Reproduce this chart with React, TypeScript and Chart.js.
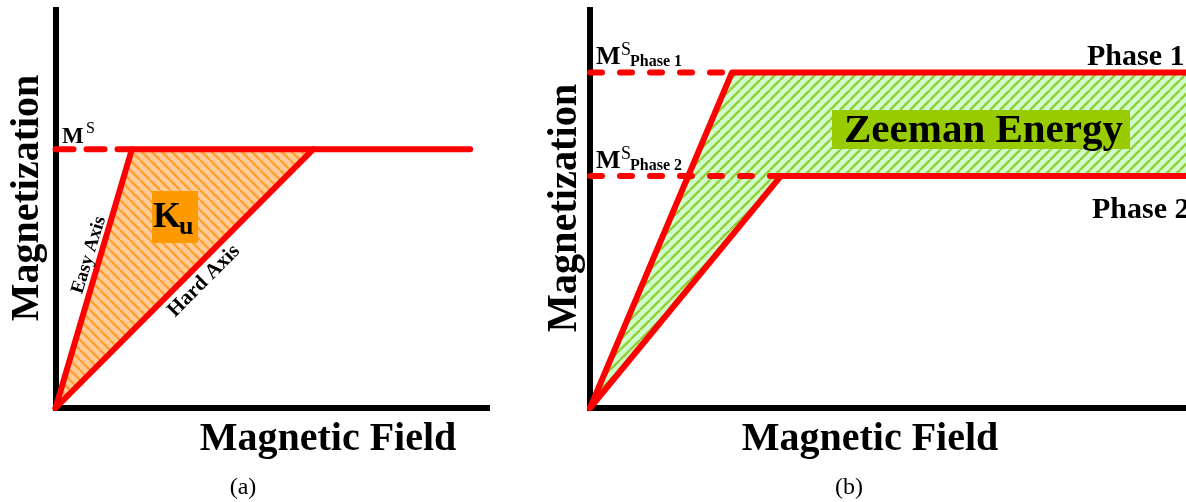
import React, { useEffect, useRef } from "react";
import { Chart, registerables } from "chart.js";

Chart.register(...registerables);

// ---------- Data (schematic units: field 0..10, magnetization 0..10) ----------
// Panel (a): uniaxial anisotropy
const easyAxisField = [0, 1.77, 9.61];
const easyAxisMag = [0, 6.5, 6.5];
const hardAxisField = [0, 5.97];
const hardAxisMag = [0, 6.5];
const msA = 6.5;

// Panel (b): Zeeman energy between two phases
const phase1Field = [0, 2.29, 10];
const phase1Mag = [0, 8.43, 8.43];
const phase2Field = [0, 3.08, 10];
const phase2Mag = [0, 5.83, 5.83];

const AXIS_MAX = 10;

// ---------- Styles ----------
const SERIF = '"Liberation Serif", "Times New Roman", serif';
const RED = "#FF0000";

const pts = (xs: number[], ys: number[]) => xs.map((x, i) => ({ x, y: ys[i] }));

function hatch(bg: string, fg: string, dir: 1 | -1, size = 10, lw = 2.4) {
  const c = document.createElement("canvas");
  c.width = size;
  c.height = size;
  const g = c.getContext("2d")!;
  g.fillStyle = bg;
  g.fillRect(0, 0, size, size);
  g.strokeStyle = fg;
  g.lineWidth = lw;
  for (const k of [-1, 0, 1]) {
    g.beginPath();
    if (dir > 0) {
      g.moveTo(k * size, size);
      g.lineTo(k * size + size, 0);
    } else {
      g.moveTo(k * size, 0);
      g.lineTo(k * size + size, size);
    }
    g.stroke();
  }
  return g.createPattern(c, "repeat")!;
}

function lineDs(label: string, xs: number[], ys: number[], extra: any = {}) {
  return {
    label,
    data: pts(xs, ys),
    borderColor: RED,
    borderWidth: 6,
    pointRadius: 0,
    fill: false,
    tension: 0,
    borderCapStyle: "round",
    borderJoinStyle: "round",
    clip: false,
    order: 1,
    ...extra,
  };
}

function axes() {
  const common = {
    display: true,
    min: 0,
    max: AXIS_MAX,
    grid: { display: false, drawTicks: false, lineWidth: 6 },
    ticks: { display: false },
    border: { display: true, color: "#000", width: 6 },
  };
  return {
    x: { type: "linear", ...common, afterFit: (s: any) => { s.height = 0; } },
    y: { type: "linear", ...common, afterFit: (s: any) => { s.width = 0; } },
  };
}

type T = {
  s: string; x: number; y: number; font: string;
  align?: CanvasTextAlign; base?: CanvasTextBaseline; rot?: number; sx?: number; color?: string;
};

function drawT(ctx: CanvasRenderingContext2D, t: T) {
  ctx.save();
  ctx.translate(t.x, t.y);
  if (t.rot) ctx.rotate((t.rot * Math.PI) / 180);
  if (t.sx) ctx.scale(t.sx, 1);
  ctx.font = t.font;
  ctx.fillStyle = t.color || "#000";
  ctx.textAlign = t.align || "left";
  ctx.textBaseline = t.base || "alphabetic";
  ctx.fillText(t.s, 0, 0);
  ctx.restore();
}

const bold = (px: number) => `bold ${px}px ${SERIF}`;
const normal = (px: number) => `${px}px ${SERIF}`;

const annotateA = {
  id: "annotateA",
  afterDraw(chart: any) {
    const ctx = chart.ctx as CanvasRenderingContext2D;
    const ys = chart.scales.y;
    const yMs = ys.getPixelForValue(msA);
    // Ku box
    ctx.save();
    ctx.fillStyle = "#FF9900";
    ctx.fillRect(152, 191, 46, 52);
    ctx.restore();
    const list: T[] = [
      { s: "Magnetization", x: 37.5, y: 198, rot: -90, align: "center", font: bold(40) },
      { s: "Magnetic Field", x: 328, y: 450, align: "center", font: bold(40) },
      { s: "(a)", x: 243, y: 494, align: "center", font: normal(24) },
      { s: "M", x: 62, y: yMs - 6.5, font: bold(23) },
      { s: "S", x: 86, y: yMs - 16.5, font: normal(16) },
      { s: "K", x: 153, y: 227, font: bold(36) },
      { s: "u", x: 179, y: 234, font: bold(26) },
      { s: "Easy Axis", x: 89, y: 255, rot: -73, align: "center", base: "middle", font: bold(19) },
      { s: "Hard Axis", x: 204, y: 281, rot: -45, align: "center", base: "middle", font: bold(21) },
    ];
    list.forEach((t) => drawT(ctx, t));
  },
};

const annotateB = {
  id: "annotateB",
  afterDraw(chart: any) {
    const ctx = chart.ctx as CanvasRenderingContext2D;
    const ys = chart.scales.y;
    const y1 = ys.getPixelForValue(phase1Mag[1]);
    const y2 = ys.getPixelForValue(phase2Mag[1]);
    ctx.save();
    ctx.fillStyle = "#99CC00";
    ctx.fillRect(292, 110, 298, 39);
    ctx.restore();
    const list: T[] = [
      { s: "Magnetization", x: 36, y: 208, rot: -90, align: "center", font: bold(42), sx: 0.96 },
      { s: "Magnetic Field", x: 330, y: 450, align: "center", font: bold(40) },
      { s: "(b)", x: 309, y: 494, align: "center", font: normal(24) },
      { s: "M", x: 56, y: y1 - 8, font: bold(26) },
      { s: "S", x: 81, y: y1 - 17, font: normal(18) },
      { s: "Phase 1", x: 90, y: y1 - 6, font: bold(16) },
      { s: "M", x: 56, y: y2 - 8, font: bold(26) },
      { s: "S", x: 81, y: y2 - 17, font: normal(18) },
      { s: "Phase 2", x: 90, y: y2 - 6, font: bold(16) },
      { s: "Phase 1", x: 547, y: y1 - 7, font: bold(30) },
      { s: "Phase 2", x: 552, y: y2 + 42, font: bold(30) },
      { s: "Zeeman Energy", x: 304, y: 142, font: bold(41) },
    ];
    list.forEach((t) => drawT(ctx, t));
  },
};

function baseOptions(padding: any) {
  return {
    responsive: false,
    animation: false,
    devicePixelRatio: 1,
    layout: { padding },
    scales: axes(),
    plugins: { legend: { display: false }, tooltip: { enabled: false }, title: { display: false } },
    events: [],
  };
}

function makePanelA(canvas: HTMLCanvasElement) {
  const kuShape = pts(
    [easyAxisField[0], easyAxisField[1], hardAxisField[1], hardAxisField[0]],
    [easyAxisMag[0], easyAxisMag[1], hardAxisMag[1], hardAxisMag[0]]
  );
  return new Chart(canvas, {
    type: "line",
    data: {
      datasets: [
        lineDs("Easy Axis", easyAxisField, easyAxisMag),
        lineDs("Hard Axis", hardAxisField, hardAxisMag),
        lineDs("Ms", [0, easyAxisField[1]], [msA, msA], { borderDash: [18, 13], order: 2 }),
        {
          label: "Ku",
          data: kuShape,
          borderWidth: 0,
          pointRadius: 0,
          tension: 0,
          backgroundColor: hatch("#FFCC99", "#FFA02E", -1),
          fill: "shape",
          order: 10,
        },
      ],
    },
    options: baseOptions({ left: 55.5, top: 10, right: 53, bottom: 94 }) as any,
    plugins: [annotateA],
  } as any);
}

function makePanelB(canvas: HTMLCanvasElement) {
  const zeemanShape = pts(
    [...phase1Field, ...phase2Field.slice().reverse()],
    [...phase1Mag, ...phase2Mag.slice().reverse()]
  );
  return new Chart(canvas, {
    type: "line",
    data: {
      datasets: [
        lineDs("Phase 1", phase1Field, phase1Mag),
        lineDs("Phase 2", phase2Field, phase2Mag),
        lineDs("Ms Phase 1", [0, phase1Field[1]], [phase1Mag[1], phase1Mag[1]], { borderDash: [12, 18], order: 2 }),
        lineDs("Ms Phase 2", [0, phase2Field[1]], [phase2Mag[1], phase2Mag[1]], { borderDash: [12, 18], order: 2 }),
        {
          label: "Zeeman Energy",
          data: zeemanShape,
          borderWidth: 0,
          pointRadius: 0,
          tension: 0,
          backgroundColor: hatch("#CCFFCC", "#99CC33", 1),
          fill: "shape",
          order: 10,
        },
      ],
    },
    options: baseOptions({ left: 50, top: 10, right: 10, bottom: 94 }) as any,
    plugins: [annotateB],
  } as any);
}

export default function App() {
  const refA = useRef<HTMLCanvasElement>(null);
  const refB = useRef<HTMLCanvasElement>(null);
  useEffect(() => {
    const ca = makePanelA(refA.current!);
    const cb = makePanelB(refB.current!);
    return () => {
      ca.destroy();
      cb.destroy();
    };
  }, []);
  return (
    <div
      style={{
        position: "fixed",
        left: 0,
        top: 0,
        width: 1186,
        height: 502,
        overflow: "hidden",
        background: "#fff",
      }}
    >
      <canvas ref={refA} width={540} height={502} style={{ position: "absolute", left: 0, top: 0, width: 540, height: 502 }} />
      <canvas ref={refB} width={680} height={502} style={{ position: "absolute", left: 540, top: 0, width: 680, height: 502 }} />
    </div>
  );
}
